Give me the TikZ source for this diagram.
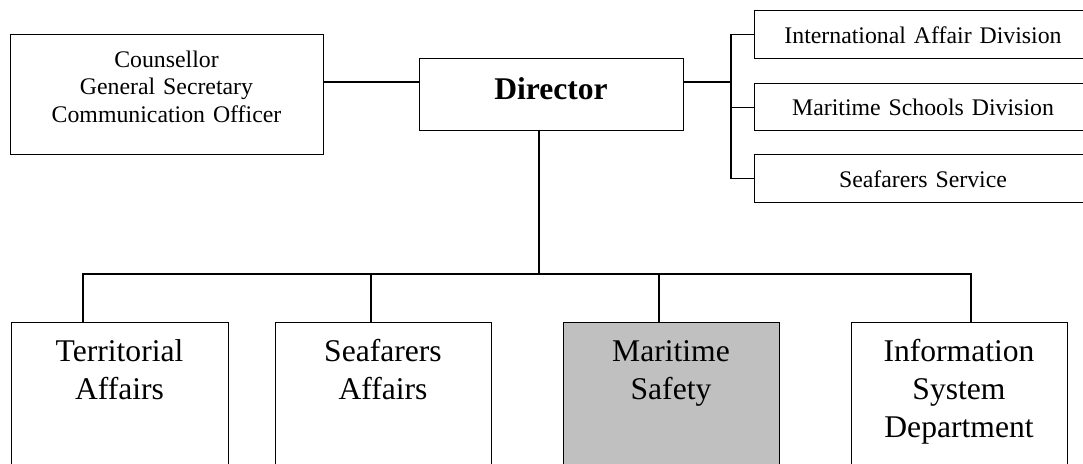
\documentclass[tikz,border=0pt]{standalone}
\usepackage{fontspec}
\setmainfont{Liberation Serif}
\definecolor{safetygray}{HTML}{C0C0C0}
\begin{document}
\begin{tikzpicture}[x=1pt,y=-1pt,
  box/.style={draw, line width=1.3pt, rectangle, inner sep=0pt, anchor=north west},
  wire/.style={line width=1.3pt, line cap=rect},
  smalltxt/.style={inner sep=0pt, anchor=base, align=center, text width=330pt,
    font=\fontsize{23.8}{27.5}\selectfont},
  bigtxt/.style={inner sep=0pt, anchor=base, align=center, text width=210pt,
    font=\fontsize{31.6}{38}\selectfont}]
\useasboundingbox (0,0) rectangle (1083,463);

% staff box and director
\node[box, minimum width=313pt, minimum height=120pt] (staff) at (10,34) {};
\node[smalltxt] (stafftext) at (166.5,67) {Counsellor\\General Secretary\\Communication Officer};
\node[box, minimum width=264pt, minimum height=72pt] (director) at (419,58) {};
\node[inner sep=0pt, anchor=base, font=\fontsize{31.6}{38}\selectfont\bfseries] (directortext) at (551,99) {Director};

% divisions on the right
\node[box, minimum width=338pt, minimum height=48pt] (intl) at (754,10) {};
\node[box, minimum width=338pt, minimum height=47pt] (schools) at (754,83) {};
\node[box, minimum width=338pt, minimum height=48pt] (service) at (754,154) {};
\node[smalltxt] (intltext) at (923,43) {International Affair Division};
\node[smalltxt] (schoolstext) at (923,115) {Maritime Schools Division};
\node[smalltxt] (servicetext) at (923,187) {Seafarers Service};

% departments
\node[box, minimum width=217pt, minimum height=160pt] (territorial) at (11,322) {};
\node[box, minimum width=216pt, minimum height=160pt] (seafarers) at (275,322) {};
\node[box, minimum width=216pt, minimum height=160pt, fill=safetygray] (safety) at (563,322) {};
\node[box, minimum width=216pt, minimum height=160pt] (infosys) at (851,322) {};
\node[bigtxt] (territorialtext) at (119.5,361) {Territorial\\Affairs};
\node[bigtxt] (seafarerstext) at (383,361) {Seafarers\\Affairs};
\node[bigtxt] (safetytext) at (671,361) {Maritime\\Safety};
\node[bigtxt] (infosystext) at (959,361) {Information\\System\\Department};

% connectors
\coordinate (hy) at (0,82);
\coordinate (bx) at (731,0);
\coordinate (dv) at (539,0);
\coordinate (bus) at (0,274);
\coordinate (tv) at (83,0);
\coordinate (sv) at (371,0);
\coordinate (mv) at (659,0);
\coordinate (iv) at (971,0);

\draw[wire] (staff.east |- hy) -- (director.west |- hy);
\draw[wire] (director.east |- hy) -- (bx |- hy);
\draw[wire] (bx |- intl.west) -- (bx |- service.west);
\draw[wire] (bx |- intl.west) -- (intl.west);
\draw[wire] (bx |- schools.west) -- (schools.west);
\draw[wire] (bx |- service.west) -- (service.west);

\draw[wire] (dv |- director.south) -- (dv |- bus);
\draw[wire] (tv |- bus) -- (iv |- bus);
\draw[wire] (tv |- bus) -- (tv |- territorial.north);
\draw[wire] (sv |- bus) -- (sv |- seafarers.north);
\draw[wire] (mv |- bus) -- (mv |- safety.north);
\draw[wire] (iv |- bus) -- (iv |- infosys.north);
\end{tikzpicture}
\end{document}
